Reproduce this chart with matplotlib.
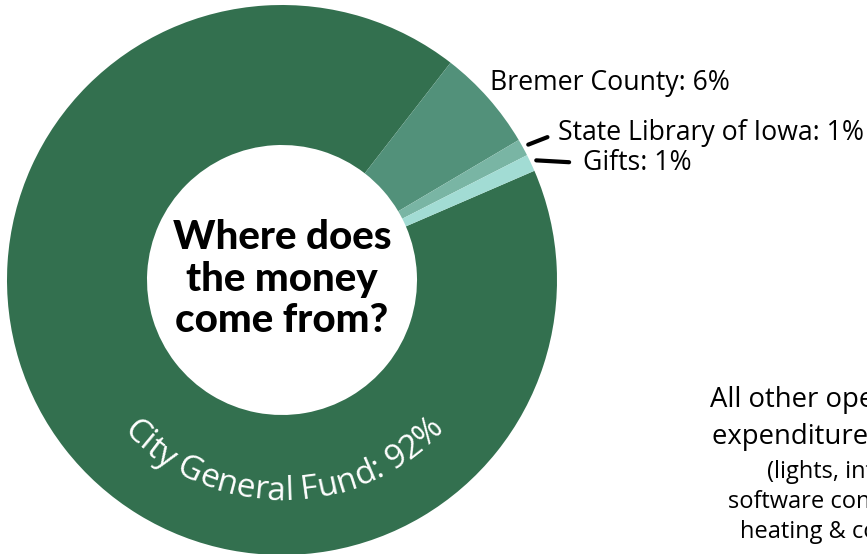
import numpy as np
import matplotlib
matplotlib.use("Agg")
from matplotlib import pyplot as plt

# funding sources (percent)
sources = ['City General Fund', 'Bremer County', 'State Library of Iowa', 'Gifts']
shares = [92, 6, 1, 1]
colors = ['#33704F', '#52917A', '#79B5A4', '#A2DCD4']

side_lines = ['All other operating', 'expenditures: 14%']
side_small = ['(lights, internet,', 'software contracts,', 'heating & cooling)']

W, H = 867, 554
fig = plt.figure(figsize=(W / 100, H / 100), dpi=100)
ax = fig.add_axes([0, 0, 1, 1])

cx, cy = 282, 274
R, hole = 275, 135
wedges, _ = ax.pie(shares, radius=R, center=(cx, cy), startangle=23.4,
                   counterclock=False, colors=colors,
                   wedgeprops=dict(width=R - hole, edgecolor='none', linewidth=0))
ax.set_xlim(0, W)
ax.set_ylim(0, H)
ax.set_aspect('equal')
ax.axis('off')

lab_font = 'Open Sans'
lab_size = 19.2

# centre title
ax.text(cx, cy + 1, 'Where does\nthe money\ncome from?', ha='center', va='center',
        fontsize=29, fontweight='black', family='Lato', linespacing=1.15, color='black')

def mid_point(w, r):
    a = np.deg2rad((w.theta1 + w.theta2) / 2)
    return cx + r * np.cos(a), cy + r * np.sin(a)

# outer labels
ax.text(490, H - 83, '%s: %d%%' % (sources[1], shares[1]), ha='left', va='center',
        fontsize=lab_size, family=lab_font, color='black')

ax.annotate('%s: %d%%' % (sources[2], shares[2]), xy=mid_point(wedges[2], 281),
            xytext=(558, H - 133), ha='left', va='center', fontsize=lab_size,
            family=lab_font, color='black',
            arrowprops=dict(arrowstyle='-', lw=3, color='black', shrinkA=6, shrinkB=0,
                            relpos=(0, 0.5)))
ax.annotate('%s: %d%%' % (sources[3], shares[3]), xy=mid_point(wedges[3], 281),
            xytext=(583, H - 163), ha='left', va='center', fontsize=lab_size,
            family=lab_font, color='black',
            arrowprops=dict(arrowstyle='-', lw=3, color='black', shrinkA=8, shrinkB=0,
                            relpos=(0, 0.5)))

# curved label inside the big wedge
fig.canvas.draw()
renderer = fig.canvas.get_renderer()
city = '%s: %d%%' % (sources[0], shares[0])
fs_city = 24

def text_w(s):
    t = ax.text(0, 0, s + '|', fontsize=fs_city, family=lab_font)
    w1 = t.get_window_extent(renderer).width
    t.set_text('|')
    w0 = t.get_window_extent(renderer).width
    t.remove()
    return w1 - w0

pref = [text_w(city[:i]) for i in range(len(city) + 1)]
total = pref[-1]
r_base = 220
for i, ch in enumerate(city):
    if ch == ' ':
        continue
    s = (pref[i] + pref[i + 1]) / 2 - total / 2
    th = np.deg2rad(270.5) + s / r_base
    x = cx + r_base * np.cos(th)
    y = cy + r_base * np.sin(th)
    ax.text(x, y, ch, ha='center', va='baseline', rotation=np.rad2deg(th) - 270,
            rotation_mode='anchor', fontsize=fs_city, family=lab_font, color='white')

# clipped side note on the right
ys = [H - 400, H - 437]
xs = [710, 712]
for s, x, y in zip(side_lines, xs, ys):
    ax.text(x, y, s, ha='left', va='center', fontsize=19.8, family=lab_font, color='black')
ys = [H - 472, H - 502, H - 532]
xs = [767, 728, 740]
for s, x, y in zip(side_small, xs, ys):
    ax.text(x, y, s, ha='left', va='center', fontsize=17, family=lab_font, color='black')

fig.savefig('out.png', dpi=100, facecolor='white')
